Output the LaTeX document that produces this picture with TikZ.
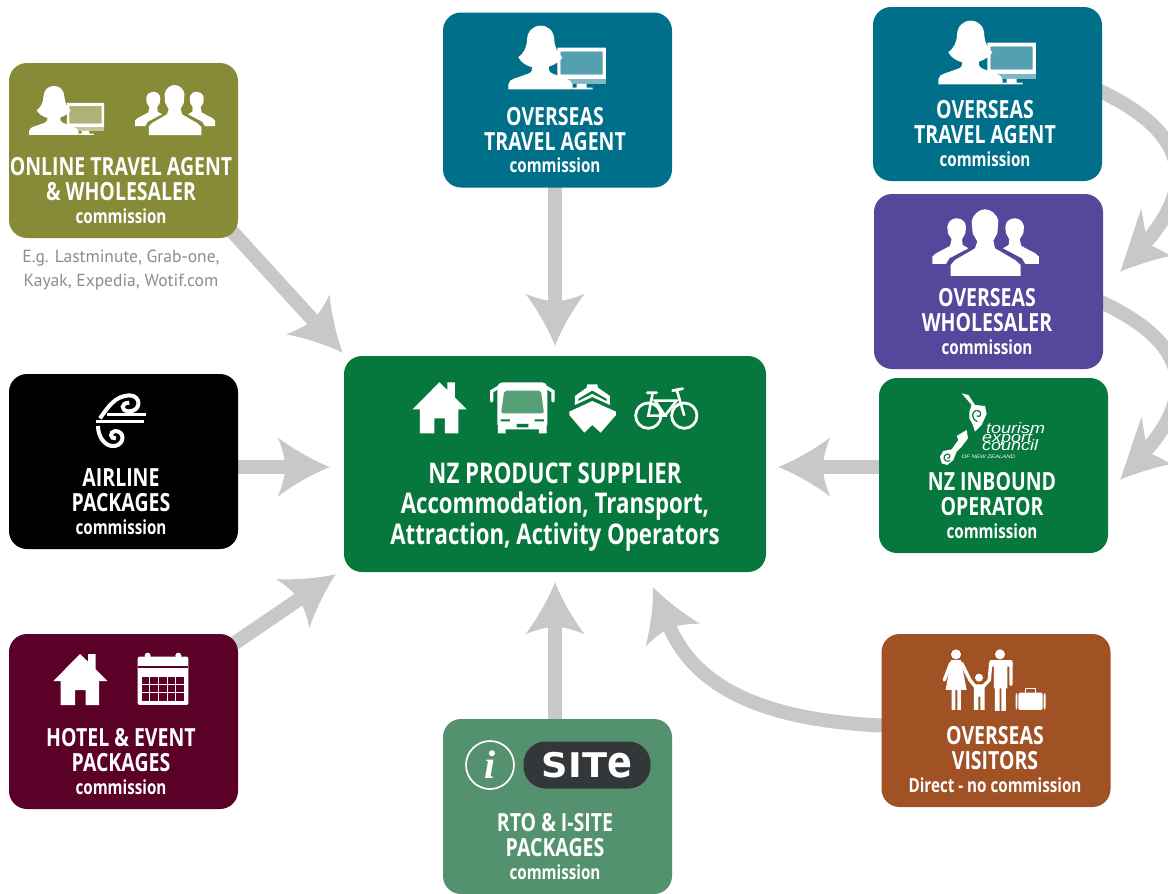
\documentclass[tikz,border=0pt]{standalone}
\usepackage{fontspec}
\usetikzlibrary{arrows.meta,backgrounds,calc}
\newfontfamily\condfont[FakeStretch=0.78]{Open Sans}
\newfontfamily\logofont[FakeStretch=1.2]{Liberation Sans}
\newfontfamily\notefont{PT Sans}
\newfontfamily\sitefont[FakeStretch=1.08]{DejaVu Sans}
\newfontfamily\ifont{Liberation Serif}
\definecolor{olivebox}{HTML}{878B37}
\definecolor{tealbox}{HTML}{00708A}
\definecolor{purplebox}{HTML}{53489C}
\definecolor{greenbox}{HTML}{06773D}
\definecolor{wine}{HTML}{5B0027}
\definecolor{sagebox}{HTML}{54926F}
\definecolor{rustbox}{HTML}{A05225}
\definecolor{arrowgray}{HTML}{C8C8C8}
\definecolor{notegray}{HTML}{8A8C8E}
\definecolor{pillgray}{HTML}{33373A}
\definecolor{busglass}{HTML}{55A077}
\pgfdeclarearrow{
  name=Swoosh,
  setup code={
    \pgfarrowssettipend{0pt}
    \pgfarrowssetlineend{-42pt}
    \pgfarrowssetvisualbackend{-45pt}
    \pgfarrowssetbackend{-52pt}
    \pgfarrowshullpoint{-52pt}{30pt}
    \pgfarrowshullpoint{-52pt}{-30pt}
    \pgfarrowshullpoint{0pt}{0pt}
  },
  drawing code={
    \pgfpathmoveto{\pgfqpoint{0pt}{0pt}}
    \pgfpathcurveto{\pgfqpoint{-18pt}{7pt}}{\pgfqpoint{-38pt}{19pt}}{\pgfqpoint{-52pt}{29.5pt}}
    \pgfpathcurveto{\pgfqpoint{-48pt}{20pt}}{\pgfqpoint{-46pt}{12pt}}{\pgfqpoint{-45pt}{6pt}}
    \pgfpathlineto{\pgfqpoint{-45pt}{-6pt}}
    \pgfpathcurveto{\pgfqpoint{-46pt}{-12pt}}{\pgfqpoint{-48pt}{-20pt}}{\pgfqpoint{-52pt}{-29.5pt}}
    \pgfpathcurveto{\pgfqpoint{-38pt}{-19pt}}{\pgfqpoint{-18pt}{-7pt}}{\pgfqpoint{0pt}{0pt}}
    \pgfpathclose
    \pgfusepathqfill
  }
}
\pgfdeclarearrow{
  name=SwooshBent,
  setup code={
    \pgfarrowssettipend{0pt}
    \pgfarrowssetlineend{-38pt}
    \pgfarrowssetvisualbackend{-40pt}
    \pgfarrowssetbackend{-61pt}
    \pgfarrowshullpoint{-61pt}{-26pt}
    \pgfarrowshullpoint{-45pt}{28pt}
    \pgfarrowshullpoint{0pt}{0pt}
  },
  drawing code={
    \pgfpathmoveto{\pgfqpoint{0pt}{0pt}}
    \pgfpathcurveto{\pgfqpoint{-16pt}{8pt}}{\pgfqpoint{-32pt}{18pt}}{\pgfqpoint{-45pt}{27.5pt}}
    \pgfpathcurveto{\pgfqpoint{-44pt}{20pt}}{\pgfqpoint{-42pt}{12pt}}{\pgfqpoint{-40pt}{7pt}}
    \pgfpathlineto{\pgfqpoint{-46pt}{-7pt}}
    \pgfpathcurveto{\pgfqpoint{-50pt}{-12pt}}{\pgfqpoint{-55pt}{-18pt}}{\pgfqpoint{-61pt}{-25.6pt}}
    \pgfpathcurveto{\pgfqpoint{-42pt}{-18pt}}{\pgfqpoint{-18pt}{-7pt}}{\pgfqpoint{0pt}{0pt}}
    \pgfpathclose
    \pgfusepathqfill
  }
}
\newcommand\ttlf{\condfont\bfseries\fontsize{25}{25}\selectfont}
\newcommand\comf{\condfont\bfseries\fontsize{19.5}{22.5}\selectfont}
\newcommand\tecf{\logofont\itshape\fontsize{15}{8.7}\selectfont\setlength{\lineskiplimit}{-100pt}}
\newcommand\lab[2]{#1\\[-2.5pt]{\comf #2}}
\tikzset{
  panel/.style={rectangle,rounded corners=18pt,fill=#1,minimum width=229pt,minimum height=175pt,inner sep=0pt},
  boxtext/.style={anchor=south,align=center,text=white,inner sep=0pt,font=\ttlf},
  conn/.style={draw=arrowgray,line width=14pt,shorten <=-12pt,-{Swoosh}},
  agent/.pic={
    \fill[white] (235,253) -- (235,238) .. controls (235,228) and (245,224) .. (252,221) -- (295,206) .. controls (305,202) and (308,195) .. (307,187) .. controls (290,182) and (275,175) .. (265,157) .. controls (280,145) and (290,130) .. (291,105) .. controls (292,78) and (310,62) .. (332,62) .. controls (355,62) and (372,78) .. (373,105) .. controls (374,130) and (385,145) .. (397,157) .. controls (390,170) and (375,178) .. (357,185) .. controls (355,195) and (358,202) .. (368,206) -- (410,222) .. controls (420,226) and (428,232) .. (428,240) -- (428,253) -- cycle;
    \fill[white,even odd rule] (382,128) rectangle (528,222) (392,140) rectangle (518,208);
    \fill[white,opacity=.33] (392,140) rectangle (518,208);
    \fill[white,opacity=.5] (400,222) rectangle (528,237);
    \fill[white] (440,237) rectangle (470,248) (428,248) rectangle (488,253);
  },
  group/.pic={
    \fill[white] (272,828) -- (272,795) -- (285,780) -- (345,745) -- (352,725) -- (338,700) -- (335,665) .. controls (340,640) and (360,628) .. (375,628) .. controls (390,628) and (412,640) .. (415,665) -- (412,700) -- (400,722) -- (405,745) -- (465,780) -- (482,795) -- (482,828) -- cycle;
    \fill[white] (217,792) -- (217,770) -- (228,760) -- (270,738) -- (275,718) -- (264,700) -- (262,680) .. controls (265,662) and (278,655) .. (290,655) .. controls (305,655) and (318,665) .. (318,682) -- (316,700) -- (306,718) -- (308,735) -- (325,745) -- (268,775) -- (258,792) -- cycle;
    \fill[white] (537,792) -- (537,770) -- (526,760) -- (484,738) -- (479,718) -- (490,700) -- (492,680) .. controls (489,662) and (476,655) .. (464,655) .. controls (449,655) and (436,665) .. (436,682) -- (438,700) -- (448,718) -- (446,735) -- (429,745) -- (486,775) -- (496,792) -- cycle;
  },
  house/.pic={
    \fill[white] (218,178) -- (298,97) -- (322,120) -- (322,97) -- (345,97) -- (345,143) -- (380,178) -- (355,178) -- (355,250) -- (315,250) -- (315,205) -- (283,205) -- (283,250) -- (240,250) -- (240,178) -- cycle;
  },
  bus/.pic={
    \fill[white,rounded corners=5pt] (472,97) rectangle (622,238);
    \fill[white] (474,230) rectangle (497,250) (597,230) rectangle (620,250);
    \draw[white,line width=3.2pt,line cap=round] (475,112) -- (455,124) -- (455,153);
    \draw[white,line width=3.2pt,line cap=round] (619,112) -- (639,124) -- (639,153);
    \fill[busglass,rounded corners=2pt] (493,122) -- (603,122) -- (612,190) -- (483,190) -- cycle;
    \fill[greenbox] (482,208) rectangle (510,214) (584,208) rectangle (612,214) (530,222) rectangle (565,232);
  },
  ship/.pic={
    \fill[white] (688,185) -- (757,153) -- (828,185) -- (828,195) -- (782,248) -- (757,225) -- (733,248) -- (688,195) -- cycle;
    \fill[white] (742,103) -- (772,103) -- (774,113) -- (810,138) -- (810,165) -- (757,141) -- (705,165) -- (705,138) -- (740,113) -- cycle;
    \fill[greenbox] (715,147) -- (757,122) -- (800,147) -- (800,153) -- (757,131) -- (715,153) -- cycle;
  },
  bike/.pic={
    \draw[white,line width=2.8pt] (925,197) circle[radius=38] (1033,197) circle[radius=38];
    \draw[white,line width=2.6pt] (938,130) -- (925,197) -- (975,197) -- (945,152) -- (1010,152) -- (975,197);
    \draw[white,line width=2.6pt] (1010,118) -- (1033,197);
    \draw[white,line width=2.8pt,line cap=round] (922,128) -- (950,128) (998,122) -- (1028,116);
  },
  calendar/.pic={
    \fill[white,rounded corners=2pt] (413,95) rectangle (565,240);
    \fill[white] (443,92) circle[radius=9] (535,92) circle[radius=9];
    \fill[wine] (413,123) rectangle (565,130);
    \foreach \cx in {425,451,477,503,529} \foreach \cy in {155,180,205}
      \fill[wine] (\cx,\cy) rectangle +(23,22);
  },
  koru/.pic={
    \draw[white,line width=4pt] (300,145) .. controls (325,110) and (345,78) .. (388,76) .. controls (425,76) and (425,125) .. (385,124) .. controls (362,122) and (362,98) .. (388,98);
    \draw[white,line width=2.6pt] (322,134) -- (438,134);
    \draw[white,line width=2.6pt] (287,155) -- (432,155);
    \draw[white,line width=4pt] (294,168) .. controls (294,200) and (315,232) .. (345,228) .. controls (375,222) and (375,183) .. (345,183) .. controls (328,185) and (330,208) .. (348,205);
  },
  tec/.pic={
    \fill[white] (305,310) -- (325,315) -- (345,345) -- (375,348) -- (380,372) -- (365,405) -- (345,425) -- (338,403) -- (328,385) -- (328,365) -- (335,345) -- cycle;
    \draw[greenbox,line width=1.2pt] (352,395) .. controls (330,385) and (335,358) .. (355,362) .. controls (368,366) and (362,385) .. (350,378);
    \fill[white] (320,420) -- (324,445) -- (305,470) -- (290,485) -- (280,510) -- (262,525) -- (245,520) -- (240,500) -- (250,483) -- (275,478) -- (295,450) -- (290,438) -- cycle;
    \draw[greenbox,line width=1.1pt] (270,512) .. controls (250,520) and (245,495) .. (262,492) .. controls (272,492) and (272,505) .. (262,505);
  },
  family/.pic={
    \fill[white] (258,88) circle[radius=15] (390,88) circle[radius=15] (327,158) circle[radius=12];
    \fill[white] (243,105) -- (273,105) -- (290,195) -- (227,195) -- cycle;
    \fill[white] (245,195) rectangle (256,255) (262,195) rectangle (273,255);
    \draw[white,line width=3.4pt,line cap=round] (242,115) -- (223,165) (275,115) -- (300,165) -- (315,184) (362,115) -- (358,165) -- (340,184) (423,115) -- (423,178);
    \fill[white,rounded corners=2pt] (358,105) rectangle (428,125);
    \fill[white] (372,110) rectangle (412,190) (375,190) rectangle (389,258) (394,190) rectangle (408,258);
    \fill[white] (312,178) rectangle (344,215) (312,215) rectangle (325,255) (331,215) rectangle (344,255);
    \fill[white,rounded corners=2pt] (445,203) rectangle (518,255) (437,205) rectangle (442,253) (521,205) rectangle (527,253);
    \draw[white,line width=.9pt] (465,203) -- (465,190) -- (495,190) -- (495,203);
  }
}
\begin{document}
\begin{tikzpicture}[x=1pt,y=-1pt]
\useasboundingbox (0,0) rectangle (1168,894);
\clip (0,0) rectangle (1168,894);
% panels
\node[panel=greenbox,minimum width=422pt,minimum height=216pt] (supplier) at (555,464) {};
\node[panel=olivebox] (online) at (123.5,150.5) {};
\node[panel=tealbox] (agentA) at (557.5,100) {};
\node[panel=tealbox,minimum height=174pt] (agentB) at (987.5,94) {};
\node[panel=purplebox] (wholesaler) at (988.5,281.5) {};
\node[panel=greenbox] (inbound) at (993.5,465.5) {};
\node[panel=black] (airline) at (123.5,461.5) {};
\node[panel=wine] (hotel) at (123.5,721.5) {};
\node[panel=sagebox] (rto) at (557.5,806.5) {};
\node[panel=rustbox,minimum height=173pt] (visitors) at (996,720.5) {};
% connectors
\begin{pgfonlayer}{background}
\draw[conn] (online.south east) -- ([shift={(-1pt,3pt)}]supplier.north west);
\draw[conn] (supplier.north |- agentA.south) -- ([yshift=10pt]supplier.north);
\draw[conn] (airline.east |- 0,467) -- ([xshift=-14pt]supplier.west |- 0,467);
\draw[conn,shorten <=-8pt] ([shift={(-6pt,-11pt)}]hotel.north east) -- ([shift={(-8pt,-2pt)}]supplier.south west);
\draw[conn] (supplier.south |- rto.north) -- ([yshift=-10pt]supplier.south);
\draw[conn,shorten <=-6pt] ([yshift=-5pt]visitors.west) .. controls (790,722) and (700,700) .. (653,587);
\draw[conn,shorten <=-6pt,-{SwooshBent}] (agentB.east |- 0,92) .. controls (1145,112) and (1220,158) .. ([shift={(17pt,10pt)}]wholesaler.east);
\draw[conn,shorten <=-6pt,-{SwooshBent}] (wholesaler.east |- 0,303) .. controls (1146,323) and (1220,367) .. ([shift={(12pt,-14pt)}]inbound.east);
\draw[conn] (inbound.west |- 0,467) -- ([xshift=12pt]supplier.east |- 0,467);
\end{pgfonlayer}
% icons
\pic[shift={(340,350)},scale=.3333] {house};
\pic[shift={(340,350)},scale=.3333] {bus};
\pic[shift={(340,350)},scale=.3333] {ship};
\pic[shift={(340,350)},scale=.3333] {bike};
\pic[shift={(-31.3,70)},scale=.2567] {agent};
\pic[shift={(80.75,-72)},scale=.25] {group};
\pic[shift={(430,5)},scale=.3333] {agent};
\pic[shift={(860,0)},scale=.3333] {agent};
\pic[shift={(860,0)},scale=.3333] {group};
\pic[shift={(860,290)},scale=.3333] {tec};
\pic[shift={(0,370)},scale=.3333] {koru};
\pic[shift={(-19.3,621.7)},scale=.3333] {house};
\pic[shift={(0,625)},scale=.3333] {calendar};
\pic[shift={(870,625)},scale=.3333] {family};
% TEC logo text
\node[anchor=north west,align=left,inner sep=0,text=white,font=\tecf] (tecA) at (982,422.5) {\mbox{\kern4pt tourism}\\export\\council};
\node[anchor=base west,inner sep=0,text=white] (tecD) at (961.5,458.3) {\logofont\itshape\fontsize{5}{5}\selectfont OF NEW ZEALAND};
% i-SITE logo
\node[draw=white,line width=1.7pt,circle,minimum size=48pt,inner sep=0] (icirc) at (490,765) {};
\node[text=white,inner sep=0] (iletter) at (icirc) {\ifont\bfseries\itshape\fontsize{40}{40}\selectfont i};
\node[fill=pillgray,rounded corners=22pt,minimum width=127pt,minimum height=47pt,inner sep=0] (pill) at (587,765) {};
\node[text=white,inner sep=0] (sitetxt) at (pill) {\sitefont\bfseries\fontsize{34}{34}\selectfont SIT\scalebox{1}[1.28]{e}};
% labels
\node[boxtext] (tOnline) at ([shift={(-2.5pt,14.5pt)}]online.south) {\lab{ONLINE TRAVEL AGENT\\\& WHOLESALER}{commission}};
\node[boxtext] (tAgentA) at ([shift={(-2.5pt,14.5pt)}]agentA.south) {\lab{OVERSEAS\\TRAVEL AGENT}{commission}};
\node[boxtext] (tAgentB) at ([shift={(-2.5pt,14.5pt)}]agentB.south) {\lab{OVERSEAS\\TRAVEL AGENT}{commission}};
\node[boxtext] (tWhole) at ([shift={(-1.5pt,14.5pt)}]wholesaler.south) {\lab{OVERSEAS\\WHOLESALER}{commission}};
\node[boxtext] (tInbound) at ([shift={(-1.5pt,14.5pt)}]inbound.south) {\lab{NZ INBOUND\\OPERATOR}{commission}};
\node[boxtext] (tAir) at ([shift={(-2.5pt,14.5pt)}]airline.south) {\lab{AIRLINE\\PACKAGES}{commission}};
\node[boxtext] (tHotel) at ([shift={(-2.5pt,14.5pt)}]hotel.south) {\lab{HOTEL \& EVENT\\PACKAGES}{commission}};
\node[boxtext] (tRto) at ([shift={(-2.5pt,14.5pt)}]rto.south) {\lab{RTO \& I-SITE\\PACKAGES}{commission}};
\node[boxtext] (tVisit) at ([shift={(-1pt,14.5pt)}]visitors.south) {\lab{OVERSEAS\\VISITORS}{Direct - no commission}};
\node[boxtext,font=\condfont\bfseries\fontsize{28.5}{30.5}\selectfont] (tSupplier) at ([yshift=21pt]supplier.south) {NZ PRODUCT SUPPLIER\\Accommodation, Transport,\\Attraction, Activity Operators};
\node[anchor=north,align=center,text=notegray,inner sep=0,font=\notefont\fontsize{17.5}{24}\selectfont] (note) at (121,250) {E.g. Lastminute, Grab-one,\\Kayak, Expedia, Wotif.com};
\end{tikzpicture}
\end{document}
